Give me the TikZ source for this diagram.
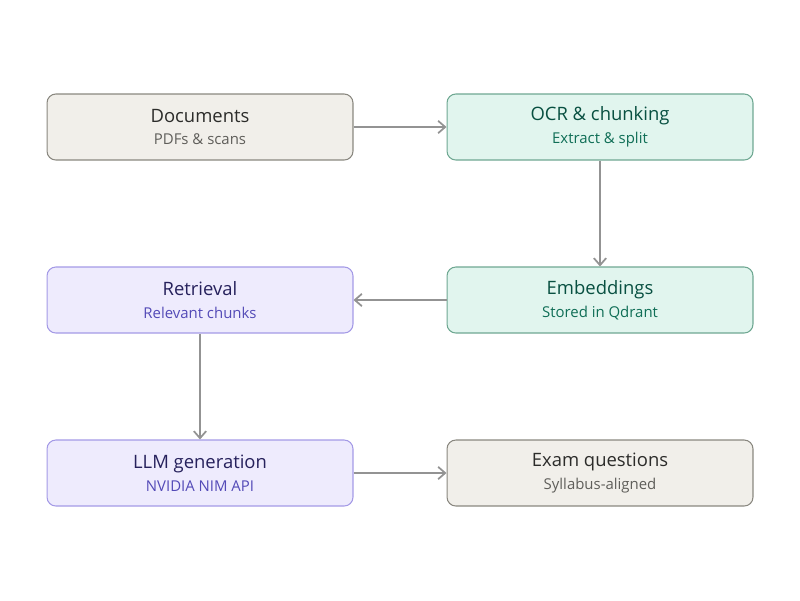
\documentclass[tikz,border=0pt]{standalone}
\usepackage{fontspec}
\setmainfont{Open Sans}
\usetikzlibrary{arrows.meta}
\definecolor{gfill}{HTML}{F1EFEA}\definecolor{gdraw}{HTML}{8A8880}
\definecolor{tfill}{HTML}{E1F5EE}\definecolor{tdraw}{HTML}{6FA892}
\definecolor{pfill}{HTML}{EEEBFD}\definecolor{pdraw}{HTML}{A49AE6}
\definecolor{gt}{HTML}{2C2C2A}\definecolor{gs}{HTML}{5F5E5A}
\definecolor{tt}{HTML}{085041}\definecolor{ts}{HTML}{0F6E56}
\definecolor{pt}{HTML}{26215C}\definecolor{ps}{HTML}{534AB7}
\begin{document}
\begin{tikzpicture}[x=0.02cm,y=-0.02cm,
 box/.style={rounded corners=5pt,minimum width=6.12cm,minimum height=1.32cm,line width=0.6pt,align=center,inner sep=0pt},
 gbox/.style={box,fill=gfill,draw=gdraw},
 tbox/.style={box,fill=tfill,draw=tdraw},
 pbox/.style={box,fill=pfill,draw=pdraw},
 arr/.style={-{Straight Barb[length=4pt,width=7pt]},draw=gray!85,line width=1pt}]
\useasboundingbox (0,0) rectangle (800,600);
\newcommand\tl[4]{{\fontsize{10.5}{13}\selectfont\color{#1}#3}\\[1pt]{\fontsize{8.5}{11}\selectfont\color{#2}#4}}
\node[gbox] (a) at (200,127) {\tl{gt}{gs}{Documents}{PDFs \& scans}};
\node[tbox] (b) at (600,127) {\tl{tt}{ts}{OCR \& chunking}{Extract \& split}};
\node[tbox] (c) at (600,300) {\tl{tt}{ts}{Embeddings}{Stored in Qdrant}};
\node[pbox] (d) at (200,300) {\tl{pt}{ps}{Retrieval}{Relevant chunks}};
\node[pbox] (e) at (200,473) {\tl{pt}{ps}{LLM generation}{NVIDIA NIM API}};
\node[gbox] (f) at (600,473) {\tl{gt}{gs}{Exam questions}{Syllabus-aligned}};
\draw[arr] (a) -- (b);
\draw[arr] (b) -- (c);
\draw[arr] (c) -- (d);
\draw[arr] (d) -- (e);
\draw[arr] (e) -- (f);
\end{tikzpicture}
\end{document}
